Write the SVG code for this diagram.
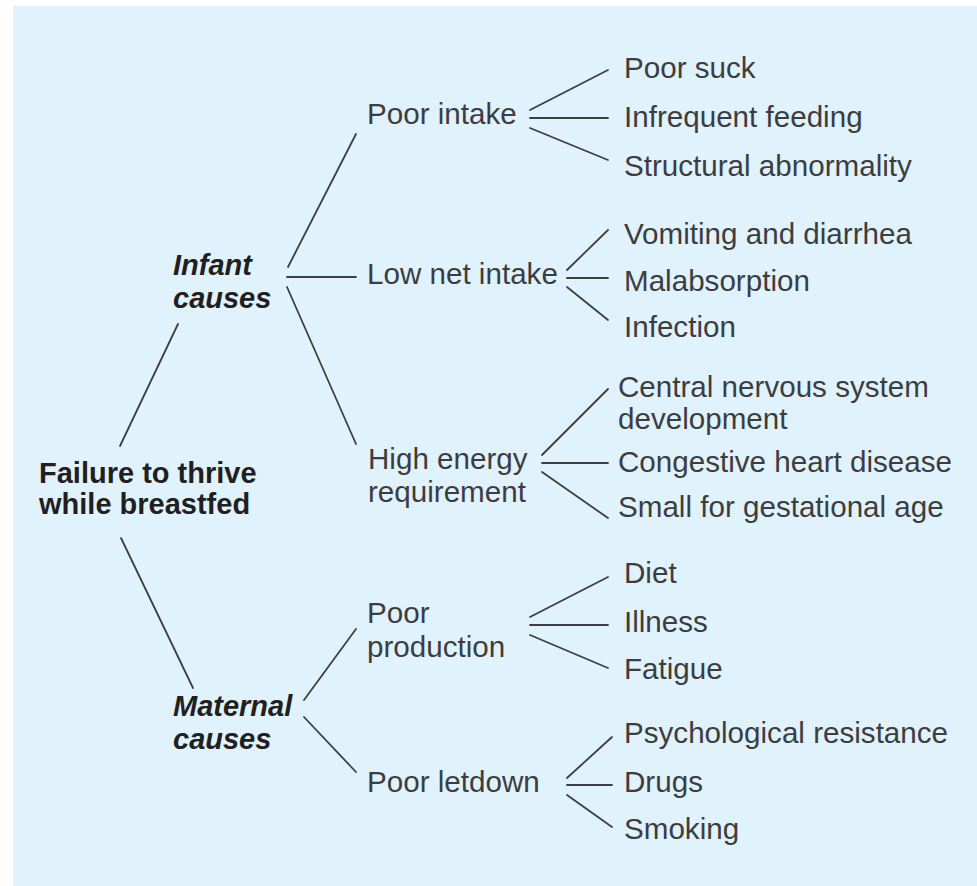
<svg xmlns="http://www.w3.org/2000/svg" width="977" height="886" viewBox="0 0 977 886">
<style>
.t{font-family:"Liberation Sans",Arial,sans-serif;font-size:29.6px;fill:#3d3d3f}
.b{font-family:"Liberation Sans",Arial,sans-serif;font-size:29px;font-weight:bold;fill:#231f20}
.bi{font-family:"Liberation Sans",Arial,sans-serif;font-size:29px;font-weight:bold;font-style:italic;fill:#231f20}
#connectors line{stroke:#3f3f3f;stroke-width:1.8;stroke-linecap:round}
</style>
<rect x="13" y="6" width="964" height="880" fill="#e0f2fc"/>
<g id="connectors">
<line x1="120" y1="446" x2="178" y2="324"/>
<line x1="121" y1="538" x2="193" y2="688"/>
<line x1="288" y1="267" x2="356" y2="134"/>
<line x1="287" y1="277" x2="356" y2="277"/>
<line x1="287" y1="287" x2="356" y2="444"/>
<line x1="304" y1="700" x2="356" y2="629"/>
<line x1="304" y1="717" x2="356" y2="772"/>
<line x1="530" y1="110" x2="608" y2="70"/>
<line x1="530" y1="118" x2="608" y2="118"/>
<line x1="530" y1="128" x2="608" y2="160"/>
<line x1="567" y1="270" x2="608" y2="230"/>
<line x1="567" y1="278" x2="608" y2="278"/>
<line x1="567" y1="287" x2="608" y2="320"/>
<line x1="542" y1="455" x2="608" y2="389"/>
<line x1="542" y1="463" x2="608" y2="463"/>
<line x1="542" y1="472" x2="608" y2="518"/>
<line x1="530" y1="617" x2="608" y2="577"/>
<line x1="530" y1="625" x2="608" y2="625"/>
<line x1="530" y1="635" x2="608" y2="668"/>
<line x1="567" y1="778" x2="612" y2="737"/>
<line x1="567" y1="785" x2="612" y2="785"/>
<line x1="567" y1="795" x2="612" y2="827"/>
</g>
<g id="root"><text class="b" x="39" y="483">Failure to thrive</text><text class="b" x="39" y="514">while breastfed</text></g>
<g id="infant"><text class="bi" x="173" y="275">Infant</text><text class="bi" x="173" y="308">causes</text></g>
<g id="maternal"><text class="bi" x="173" y="716">Maternal</text><text class="bi" x="173" y="749">causes</text></g>
<g id="poor-intake"><text class="t" x="367" y="124">Poor intake</text></g>
<g id="low-net-intake"><text class="t" x="367" y="284">Low net intake</text></g>
<g id="high-energy"><text class="t" x="368" y="469">High energy</text><text class="t" x="368" y="502">requirement</text></g>
<g id="poor-production"><text class="t" x="367" y="623">Poor</text><text class="t" x="367" y="657">production</text></g>
<g id="poor-letdown"><text class="t" x="367" y="792">Poor letdown</text></g>
<g id="poor-suck"><text class="t" x="624" y="78">Poor suck</text></g>
<g id="infrequent-feeding"><text class="t" x="624" y="127">Infrequent feeding</text></g>
<g id="structural"><text class="t" x="624" y="176">Structural abnormality</text></g>
<g id="vomiting"><text class="t" x="624" y="244">Vomiting and diarrhea</text></g>
<g id="malabsorption"><text class="t" x="624" y="291">Malabsorption</text></g>
<g id="infection"><text class="t" x="624" y="337">Infection</text></g>
<g id="cns"><text class="t" x="618" y="397">Central nervous system</text><text class="t" x="618" y="429">development</text></g>
<g id="chd"><text class="t" x="618" y="472">Congestive heart disease</text></g>
<g id="sga"><text class="t" x="618" y="517">Small for gestational age</text></g>
<g id="diet"><text class="t" x="624" y="583">Diet</text></g>
<g id="illness"><text class="t" x="624" y="632">Illness</text></g>
<g id="fatigue"><text class="t" x="624" y="679">Fatigue</text></g>
<g id="psych"><text class="t" x="624" y="743">Psychological resistance</text></g>
<g id="drugs"><text class="t" x="624" y="792">Drugs</text></g>
<g id="smoking"><text class="t" x="624" y="839">Smoking</text></g>
</svg>
